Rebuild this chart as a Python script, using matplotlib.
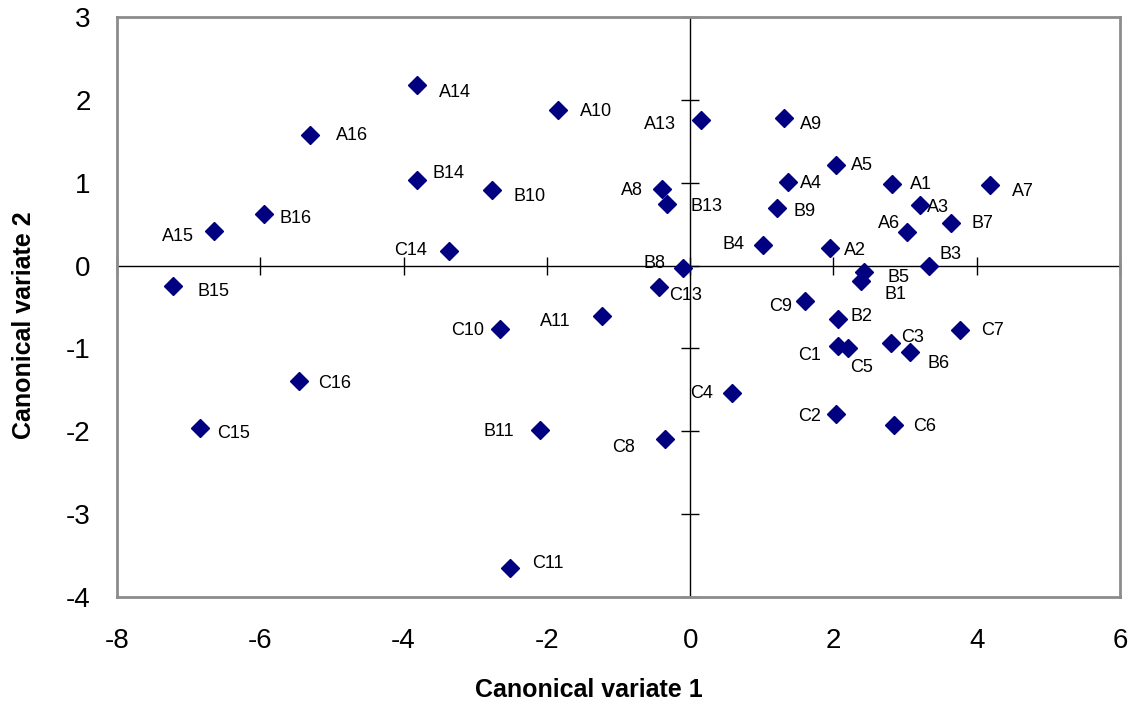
import matplotlib
matplotlib.use('Agg')
import matplotlib.pyplot as plt
import numpy as np

plt.rcParams['font.family'] = ['Liberation Sans', 'DejaVu Sans']

# Scores (canonical variate 1, canonical variate 2) per sample
names = ['A1', 'A2', 'A3', 'A4', 'A5', 'A6', 'A7', 'A8', 'A9', 'A10', 'A11', 'A13', 'A14', 'A15', 'A16',
         'B1', 'B2', 'B3', 'B4', 'B5', 'B6', 'B7', 'B8', 'B9', 'B10', 'B11', 'B13', 'B14', 'B15', 'B16',
         'C1', 'C2', 'C3', 'C4', 'C5', 'C6', 'C7', 'C8', 'C9', 'C10', 'C11', 'C13', 'C14', 'C15', 'C16']
cv1 = [2.82, 1.95, 3.21, 1.36, 2.04, 3.03, 4.19, -0.40, 1.31, -1.85, -1.23, 0.15, -3.81, -6.65, -5.30,
       2.39, 2.07, 3.33, 1.02, 2.42, 3.07, 3.64, -0.10, 1.21, -2.76, -2.09, -0.32, -3.81, -7.22, -5.95,
       2.06, 2.04, 2.80, 0.59, 2.21, 2.84, 3.76, -0.35, 1.60, -2.65, -2.52, -0.44, -3.36, -6.84, -5.46]
cv2 = [0.99, 0.21, 0.73, 1.01, 1.22, 0.41, 0.97, 0.93, 1.78, 1.88, -0.61, 1.76, 2.18, 0.42, 1.58,
       -0.18, -0.64, -0.01, 0.25, -0.08, -1.05, 0.52, -0.03, 0.70, 0.91, -1.99, 0.75, 1.04, -0.25, 0.63,
       -0.97, -1.79, -0.94, -1.54, -0.99, -1.93, -0.78, -2.10, -0.43, -0.77, -3.65, -0.26, 0.18, -1.96, -1.40]

xticks = [-8, -6, -4, -2, 0, 2, 4, 6]
yticks = [-4, -3, -2, -1, 0, 1, 2, 3]

# label placement (pixels right, pixels down, alignment)
lab_off = {
    'A1': (18, 0, 'left'), 'A2': (14, 1, 'left'), 'A3': (7, 1, 'left'), 'A4': (12, 0, 'left'),
    'A5': (15, 0, 'left'), 'A6': (-7, -9, 'right'), 'A7': (22, 5, 'left'), 'A8': (-19, 1, 'right'),
    'A9': (16, 5, 'left'), 'A10': (22, 0, 'left'), 'A11': (-31, 4, 'right'), 'A13': (-25, 3, 'right'),
    'A14': (22, 6, 'left'), 'A15': (-20, 5, 'right'), 'A16': (26, 0, 'left'),
    'B1': (23, 13, 'left'), 'B2': (12, -3, 'left'), 'B3': (11, -13, 'left'), 'B4': (-19, -1, 'right'),
    'B5': (24, 4, 'left'), 'B6': (17, 10, 'left'), 'B7': (21, 0, 'left'), 'B8': (-17, -6, 'right'),
    'B9': (17, 3, 'left'), 'B10': (21, 5, 'left'), 'B11': (-26, 0, 'right'), 'B13': (23, 2, 'left'),
    'B14': (15, -7, 'left'), 'B15': (25, 4, 'left'), 'B16': (16, 4, 'left'),
    'C1': (-17, 9, 'right'), 'C2': (-15, 2, 'right'), 'C3': (10, -7, 'left'), 'C4': (-19, -1, 'right'),
    'C5': (2, 19, 'left'), 'C6': (19, 0, 'left'), 'C7': (22, -1, 'left'), 'C8': (-30, 7, 'right'),
    'C9': (-13, 4, 'right'), 'C10': (-16, 0, 'right'), 'C11': (23, -5, 'left'), 'C13': (10, 7, 'left'),
    'C14': (-22, -1, 'right'), 'C15': (17, 5, 'left'), 'C16': (19, 1, 'left'),
}

fig = plt.figure(figsize=(11.35, 7.05), dpi=100)
ax = fig.add_axes([0.1031, 0.1539, 0.8837, 0.8213])

ax.set_xlim(-8, 6)
ax.set_ylim(-4, 3)
ax.set_xticks(xticks)
ax.set_yticks(yticks)
ax.set_xticklabels([str(t) for t in xticks])
ax.set_yticklabels([str(t) for t in yticks])
ax.tick_params(axis='x', length=0, pad=23, labelsize=20)
ax.tick_params(axis='y', length=0, pad=19, labelsize=20)

for s in ax.spines.values():
    s.set_color('#8c8c8c')
    s.set_linewidth(2)

# axes through the origin with crossing tick marks
ax.axhline(0, color='black', lw=1, zorder=1)
ax.axvline(0, color='black', lw=1, zorder=1)
ax.plot(xticks, np.zeros(len(xticks)), '|', ms=13, mew=1, color='black', zorder=1, clip_on=False)
ax.plot(np.zeros(len(yticks)), yticks, '_', ms=13, mew=1, color='black', zorder=1, clip_on=False)

ax.plot(cv1, cv2, 'D', ms=8.7, color='#000080', mec='#000080', ls='none', zorder=3)

for n, x, y in zip(names, cv1, cv2):
    dx, dy, ha = lab_off[n]
    ax.annotate(n, (x, y), xytext=(dx, -dy - 1), textcoords='offset pixels',
                ha=ha, va='center', fontsize=13, zorder=4)

ax.set_xlabel('Canonical variate 1', fontsize=18, fontweight='bold', va='center')
ax.xaxis.set_label_coords(0.47, -0.1615)
ax.set_ylabel('Canonical variate 2', fontsize=18, fontweight='bold', va='center')
ax.yaxis.set_label_coords(-0.0927, 0.469)

fig.savefig('out.png', dpi=100)
